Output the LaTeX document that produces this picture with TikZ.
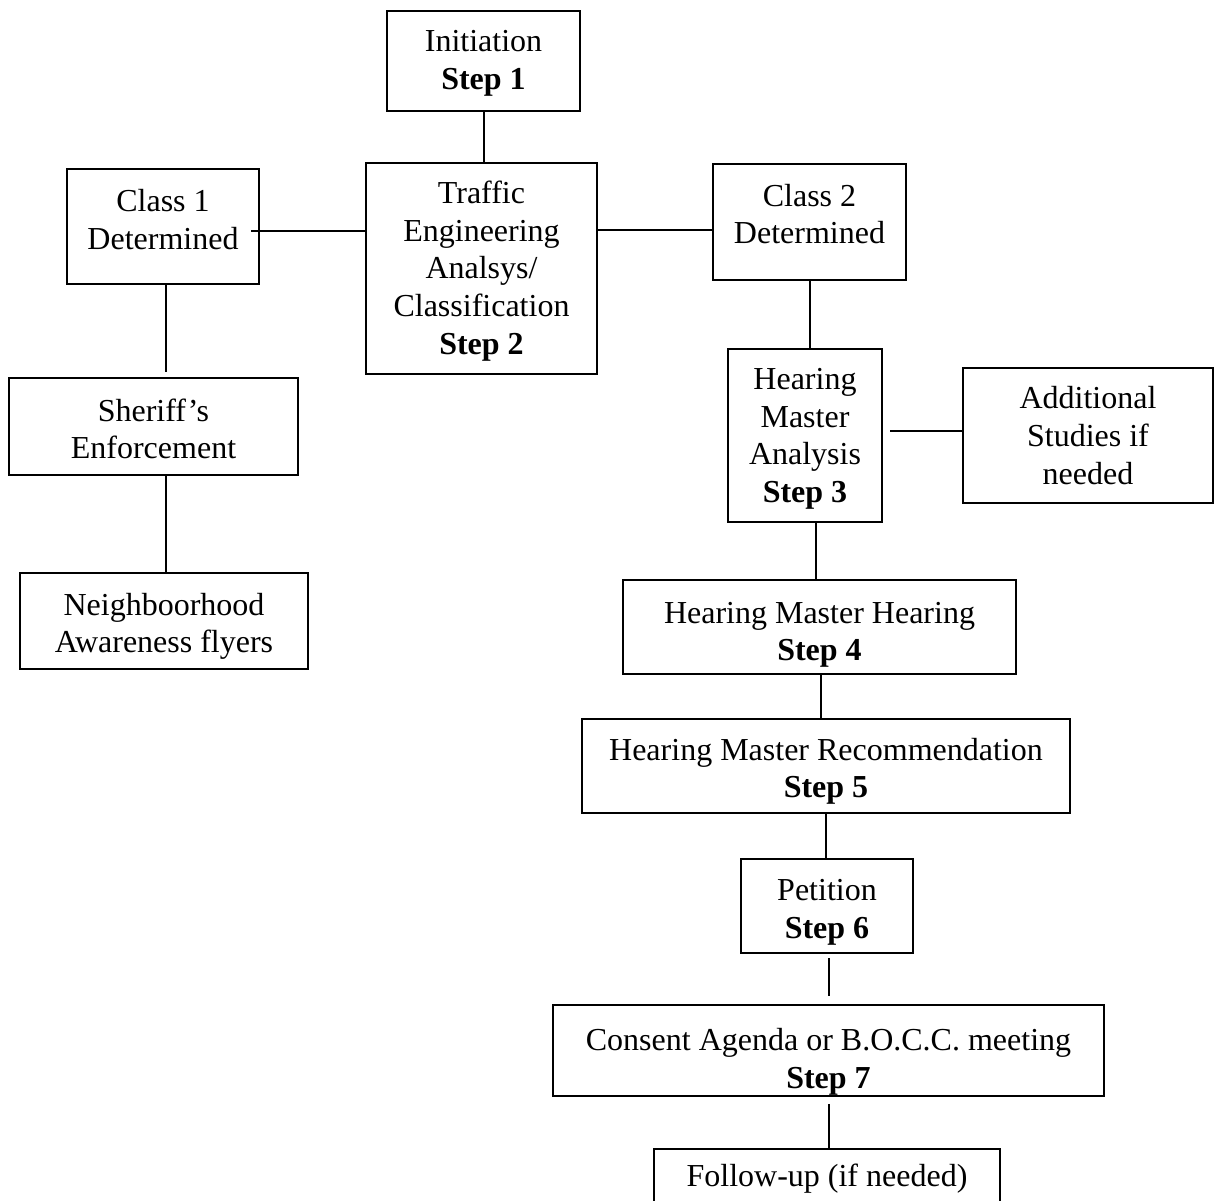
\documentclass[tikz,border=0pt]{standalone}
\usepackage{fontspec}
\setmainfont{Liberation Serif}
\usetikzlibrary{calc}
\newcommand{\topfill}[1]{\rule{0pt}{#1}}
\begin{document}
\begin{tikzpicture}[x=0.375pt,y=-0.375pt,
  bx/.style 2 args={draw,line width=0.75pt,align=center,inner sep=0pt,
    minimum width=#1*0.375pt,minimum height=#2*0.375pt,
    font=\fontsize{12}{14.1}\selectfont},
  conn/.style={line width=0.75pt}]
\useasboundingbox (0,0) rectangle (1214,1200);
\node[bx={193}{100},text depth=0.7pt] (init) at (483.5,61) {Initiation\\\textbf{Step 1}};
\node[bx={231}{211},text depth=0.7pt] (traffic) at (481.5,268.5) {Traffic\\Engineering\\Analsys/\\Classification\\\textbf{Step 2}};
\node[bx={192}{115},text depth=5.2pt] (c1) at (163,226.5) {Class 1\\Determined};
\node[bx={193}{116},text depth=6pt] (c2) at (809.5,222) {Class 2\\Determined};
\node[bx={289}{97},text depth=0pt] (sheriff) at (153.5,426.5) {\topfill{10.2pt}Sheriff’s\\Enforcement};
\node[bx={288}{96},text depth=0pt] (neigh) at (164,621) {\topfill{9.8pt}Neighboorhood\\Awareness flyers};
\node[bx={154}{173},text depth=0pt] (hma) at (805,435.5) {Hearing\\Master\\Analysis\\\textbf{Step 3}};
\node[bx={250}{135}] (add) at (1088,435.5) {Additional\\Studies if\\needed};
\node[bx={393}{94},text depth=0pt] (hmh) at (819.5,627) {\topfill{11.3pt}Hearing Master Hearing\\\textbf{Step 4}};
\node[bx={488}{94},text depth=0pt] (hmr) at (826,766) {\topfill{9.8pt}Hearing Master Recommendation\\\textbf{Step 5}};
\node[bx={172}{94},text depth=0pt] (pet) at (827,906) {\topfill{10.2pt}Petition\\\textbf{Step 6}};
\node[bx={551}{91},text depth=0pt] (con) at (828.5,1050.5) {\topfill{14.3pt}Consent Agenda or B.O.C.C. meeting\\\textbf{Step 7}};
\node[bx={346}{60}] (fol) at (827,1179) {Follow-up (if needed)};
% connectors
\draw[conn] (init.south) -- (init.south |- traffic.north);
\coordinate (c1r) at ($(c1.east)+(-9,4.5)$);
\draw[conn] (c1r) -- (c1r -| traffic.west);
\coordinate (c2l) at ($(c2.west)+(0,8)$);
\draw[conn] (c2l) -- (c2l -| traffic.east);
\coordinate (c1b) at ($(c1.south)+(3,0)$);
\draw[conn,shorten >=1.9pt] (c1b) -- (c1b |- sheriff.north);
\draw[conn] (c1b |- sheriff.south) -- (c1b |- neigh.north);
\draw[conn] (c2.south) -- (c2.south |- hma.north);
\coordinate (al) at ($(add.west)+(0,-4.5)$);
\draw[conn,shorten >=2.6pt] (al) -- (al -| hma.east);
\coordinate (hm1) at ($(hmh.north)+(-3.5,0)$);
\draw[conn] (hm1 |- hma.south) -- (hm1);
\coordinate (hm2) at ($(hmh.south)+(1.5,0)$);
\draw[conn] (hm2) -- (hm2 |- hmr.north);
\draw[conn] (hmr.south) -- (hmr.south |- pet.north);
\coordinate (pc) at ($(pet.south)+(2,0)$);
\draw[conn,shorten <=1.5pt,shorten >=3pt] (pc) -- (pc |- con.north);
\draw[conn,shorten <=2.6pt] (pc |- con.south) -- (pc |- fol.north);
\end{tikzpicture}
\end{document}
